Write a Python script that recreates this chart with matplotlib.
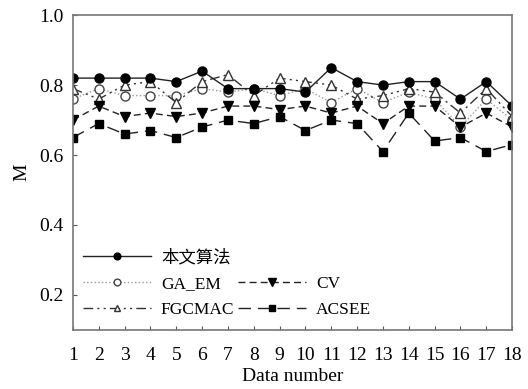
import matplotlib
matplotlib.use('Agg')
import matplotlib.pyplot as plt
from matplotlib.lines import Line2D

plt.rcParams['font.family'] = ['Liberation Serif', 'Noto Sans CJK SC']

# data
x = list(range(1, 19))
ours = [0.82, 0.82, 0.82, 0.82, 0.81, 0.84, 0.79, 0.79, 0.79, 0.78, 0.85, 0.81, 0.80, 0.81, 0.81, 0.76, 0.81, 0.74]
ga_em = [0.76, 0.79, 0.77, 0.77, 0.77, 0.79, 0.78, 0.79, 0.77, 0.79, 0.75, 0.79, 0.75, 0.78, 0.76, 0.68, 0.76, 0.70]
cv = [0.70, 0.74, 0.71, 0.72, 0.71, 0.72, 0.74, 0.74, 0.73, 0.74, 0.72, 0.74, 0.69, 0.74, 0.74, 0.68, 0.72, 0.68]
fgcmac = [0.79, 0.76, 0.80, 0.81, 0.75, 0.81, 0.83, 0.77, 0.82, 0.81, 0.80, 0.76, 0.77, 0.79, 0.78, 0.72, 0.79, 0.71]
acsee = [0.65, 0.69, 0.66, 0.67, 0.65, 0.68, 0.70, 0.69, 0.71, 0.67, 0.70, 0.69, 0.61, 0.72, 0.64, 0.65, 0.61, 0.63]

fig = plt.figure(figsize=(5.28, 3.89), dpi=100)
ax = fig.add_axes([0.138, 0.152, 0.832, 0.809])

lw = 1.0
ms = 6.5
h_ga, = ax.plot(x, ga_em, color='#999999', linestyle=':', lw=lw, marker='o', ms=ms,
                markerfacecolor='white', markeredgecolor='#444444', label='GA_EM')
h_fg, = ax.plot(x, fgcmac, color='#333333', linestyle=(0, (7, 3, 1.5, 3, 1.5, 3)), lw=lw,
                marker='^', ms=ms, markerfacecolor='white', markeredgecolor='#333333', label='FGCMAC')
h_cv, = ax.plot(x, cv, color='#222222', linestyle=(0, (5, 3)), lw=lw, marker='v', ms=7,
                markerfacecolor='black', markeredgecolor='black', label='CV')
h_ac, = ax.plot(x, acsee, color='#222222', linestyle=(0, (9, 5)), lw=lw, marker='s', ms=6,
                markerfacecolor='black', markeredgecolor='black', label='ACSEE')
h_ours, = ax.plot(x, ours, color='#222222', linestyle='-', lw=lw, marker='o', ms=ms,
                  markerfacecolor='black', markeredgecolor='black', label='本文算法')

blank = Line2D([], [], linestyle='none', marker='none')
ax.legend([h_ours, h_ga, h_fg, blank, h_cv, h_ac],
          ['本文算法', 'GA_EM', 'FGCMAC', '', 'CV', 'ACSEE'],
          ncol=2, loc='lower left', bbox_to_anchor=(-0.005, 0.0), frameon=False,
          fontsize=12.5, handlelength=3.9, handletextpad=0.6, columnspacing=0.2,
          labelspacing=0.55, markerscale=0.75, borderaxespad=0.3)

ax.set_xlim(1, 18)
ax.set_ylim(0.1, 1.0)
ax.set_xticks(x)
ax.set_yticks([0.2, 0.4, 0.6, 0.8, 1.0])
ax.set_yticklabels(['0.2', '0.4', '0.6', '0.8', '1.0'])
ax.tick_params(axis='both', labelsize=14, direction='in', length=3, color='#555555')
ax.tick_params(axis='x', pad=12)
ax.tick_params(axis='y', pad=7)
for s in ax.spines.values():
    s.set_color('#777777')
    s.set_linewidth(1.2)

ax.set_xlabel('Data number', fontsize=14, labelpad=3)
ax.set_ylabel('M', fontsize=14, labelpad=6)

fig.savefig('out.png', dpi=100)
